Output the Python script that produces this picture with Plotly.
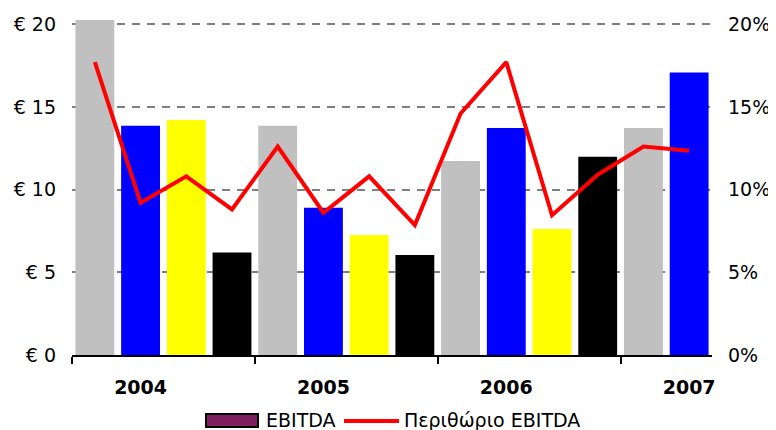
import plotly.graph_objects as go

quarters = ["2004 Q1", "2004 Q2", "2004 Q3", "2004 Q4",
            "2005 Q1", "2005 Q2", "2005 Q3", "2005 Q4",
            "2006 Q1", "2006 Q2", "2006 Q3", "2006 Q4",
            "2007 Q1", "2007 Q2"]
ebitda = [20.25, 13.85, 14.2, 6.2, 13.85, 8.9, 7.26, 6.05,
          11.73, 13.72, 7.62, 11.99, 13.72, 17.07]
margin_pct = [17.7, 9.2, 10.8, 8.8, 12.6, 8.6, 10.8, 7.85,
              14.6, 17.7, 8.45, 10.9, 12.6, 12.35]
quarter_colors = ["#C0C0C0", "#0000FF", "#FFFF00", "#000000"]
year_labels = ["2004", "2005", "2006", "2007"]
left_ticks = [0, 5, 10, 15, 20]
left_ticktext = ["€ 0", "€ 5", "€ 10", "€ 15", "€ 20"]
right_ticks = [0, 5, 10, 15, 20]
right_ticktext = ["0%", "5%", "10%", "15%", "20%"]

x = list(range(len(quarters)))
bar_colors = [quarter_colors[i % 4] for i in x]
year_pos = [i for i in x if i % 4 == 1]
group_bounds = [i - 0.5 for i in x if i % 4 == 0]

FONT = "DejaVu Sans"
OFF = 8  # page body margin
fig = go.Figure()
fig.add_trace(go.Bar(x=x, y=ebitda, marker=dict(color=bar_colors, line=dict(width=0)),
                     name="EBITDA", hovertext=quarters, showlegend=False))
fig.add_trace(go.Scatter(x=x, y=margin_pct, yaxis="y2", mode="lines",
                         line=dict(color="#FF0000", width=4),
                         name="Περιθώριο EBITDA", hovertext=quarters, showlegend=False))

W, H = 776 - OFF, 430 - OFF
L, T = 72 - OFF, 19 - OFF
R = W - (712 - OFF)
B = H - (355 - OFF)
pw, ph = W - L - R, H - T - B
yr = [0, 20.31]

fig.update_layout(
    width=W, height=H, margin=dict(l=L, r=R, t=T, b=B, autoexpand=False),
    plot_bgcolor="white", paper_bgcolor="white",
    bargap=0.15,
    font=dict(family=FONT, size=19, color="black"),
    xaxis=dict(range=[-0.5, len(x) - 0.5], tickmode="array", tickvals=year_pos,
               ticktext=year_labels, tickfont=dict(family=FONT, size=19, weight="bold"),
               ticks="", showgrid=False, zeroline=False, showline=True,
               linecolor="black", linewidth=1.5, ticklabelstandoff=14,
               minor=dict(tickmode="array", tickvals=group_bounds, ticks="outside",
                          ticklen=7, tickcolor="black", tickwidth=1.5, showgrid=False)),
    yaxis=dict(range=yr, tickmode="array", tickvals=left_ticks, ticktext=left_ticktext,
               showgrid=True, gridcolor="#7F7F7F", gridwidth=1.5, griddash="8px,7px",
               zeroline=False, showline=False, ticks="", ticklabelstandoff=15),
    yaxis2=dict(range=yr, overlaying="y", side="right", tickmode="array",
                tickvals=right_ticks, ticktext=right_ticktext, showgrid=False,
                zeroline=False, showline=False, ticks="", ticklabelstandoff=15),
)

def px_x(p):
    return (p - OFF - L) / pw

def px_y(p):
    return (H - B - (p - OFF)) / ph

# custom legend
fig.add_shape(type="rect", xref="paper", yref="paper",
              x0=px_x(206), x1=px_x(258), y0=px_y(427), y1=px_y(414),
              fillcolor="#7F1F5F", line=dict(color="black", width=2))
fig.add_annotation(xref="paper", yref="paper", x=px_x(264), y=px_y(420),
                   text="EBITDA", showarrow=False, xanchor="left", yanchor="middle",
                   font=dict(family=FONT, size=19, color="black"))
fig.add_shape(type="line", xref="paper", yref="paper",
              x0=px_x(344), x1=px_x(399), y0=px_y(421), y1=px_y(421),
              line=dict(color="#FF0000", width=4))
fig.add_annotation(xref="paper", yref="paper", x=px_x(402), y=px_y(420),
                   text="Περιθώριο EBITDA", showarrow=False, xanchor="left", yanchor="middle",
                   font=dict(family=FONT, size=19, color="black"))

fig.write_html("out.html")
